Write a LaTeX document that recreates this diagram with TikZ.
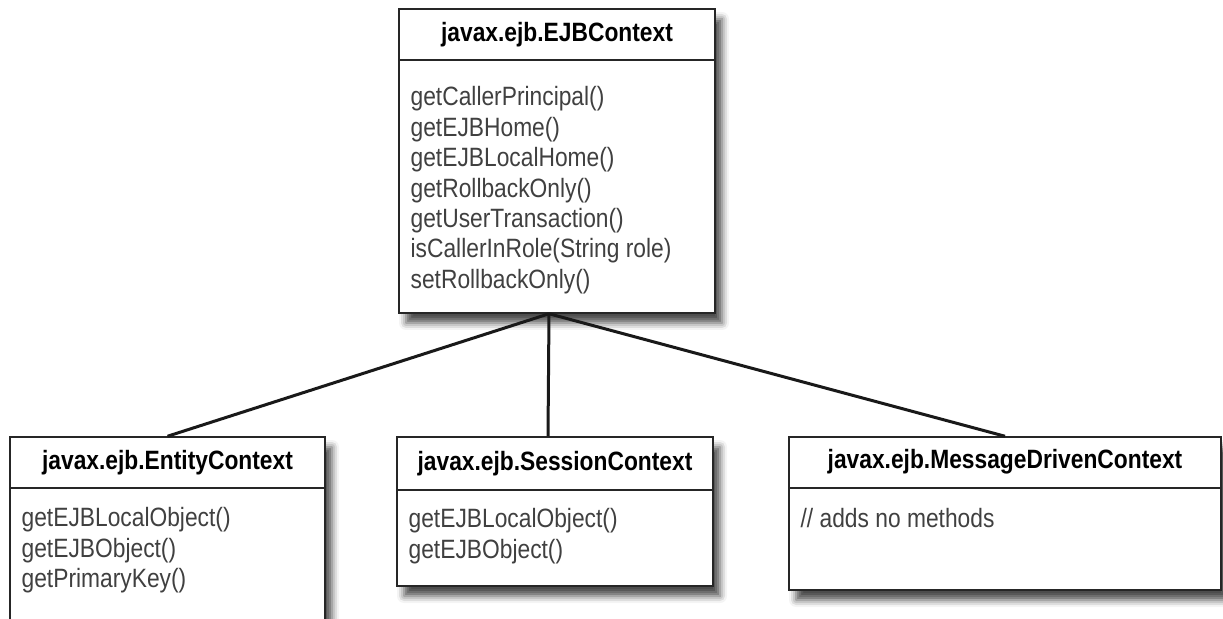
\documentclass[tikz,border=0pt]{standalone}
\usepackage{fontspec}
\setmainfont{Liberation Sans}[FakeStretch=0.86]
\usetikzlibrary{positioning, calc, shadows.blur}

\begin{document}
\begin{tikzpicture}[
    x=0.5pt, y=0.5pt,
    class_box/.style={
        rectangle,
        draw=black!85,
        line width=0.75pt,
        fill=white,
        inner sep=0pt,
        blur shadow={shadow xshift=3.5pt, shadow yshift=-5pt, shadow blur radius=3.5pt, shadow opacity=70}
    },
    class_head/.style={
        anchor=north,
        inner sep=0pt,
        minimum height=25.5pt,
        font=\fontsize{13.25}{15.2}\selectfont\bfseries,
        text=black
    },
    class_body/.style={
        anchor=north west,
        inner sep=0pt,
        align=left,
        font=\fontsize{13.25}{15.2}\selectfont,
        text=black!75
    },
    rule/.style={
        line width=0.75pt,
        black!85
    },
    link/.style={
        line width=1.5pt,
        black!90
    }
]

    \useasboundingbox (0,0) rectangle (1223,618);
    \clip (0,0) rectangle (1223,618);

    % Parent interface
    \node[class_box, minimum width=158pt, minimum height=152pt] (ejbctx) at (557,457) {};
    \node[class_head] (ejbctx_head) at (ejbctx.north) {javax.ejb.EJBContext};
    \draw[rule] (ejbctx_head.south -| ejbctx.west) -- (ejbctx_head.south -| ejbctx.east);
    \node[class_body] (ejbctx_body) at ($(ejbctx.north west)+(12,-78)$) {getCallerPrincipal()\\getEJBHome()\\getEJBLocalHome()\\getRollbackOnly()\\getUserTransaction()\\isCallerInRole(String role)\\setRollbackOnly()};

    % Sub-interfaces
    \node[class_box, minimum width=157.5pt, minimum height=121.5pt] (entity) at (167.5,59.5) {};
    \node[class_head] (entity_head) at (entity.north) {javax.ejb.EntityContext};
    \draw[rule] (entity_head.south -| entity.west) -- (entity_head.south -| entity.east);
    \node[class_body] (entity_body) at ($(entity.north west)+(12,-71)$) {getEJBLocalObject()\\getEJBObject()\\getPrimaryKey()};

    \node[class_box, minimum width=158pt, minimum height=74.5pt] (session) at (555,106.5) {};
    \node[class_head, minimum height=26.5pt] (session_head) at (session.north) {javax.ejb.SessionContext};
    \draw[rule] (session_head.south -| session.west) -- (session_head.south -| session.east);
    \node[class_body] (session_body) at ($(session.north west)+(12,-72)$) {getEJBLocalObject()\\getEJBObject()};

    \node[class_box, minimum width=216pt, minimum height=76.5pt] (mdc) at (1005,104.5) {};
    \node[class_head] (mdc_head) at (mdc.north) {javax.ejb.MessageDrivenContext};
    \draw[rule] (mdc_head.south -| mdc.west) -- (mdc_head.south -| mdc.east);
    \node[class_body] (mdc_body) at ($(mdc.north west)+(12,-72)$) {// adds no methods};

    % Inheritance links
    \coordinate (apex) at ([xshift=-4pt]ejbctx.south);
    \draw[link] (apex) -- (entity.north);
    \draw[link] (apex) -- ([xshift=-3.5pt]session.north);
    \draw[link] (apex) -- (mdc.north);

\end{tikzpicture}
\end{document}
